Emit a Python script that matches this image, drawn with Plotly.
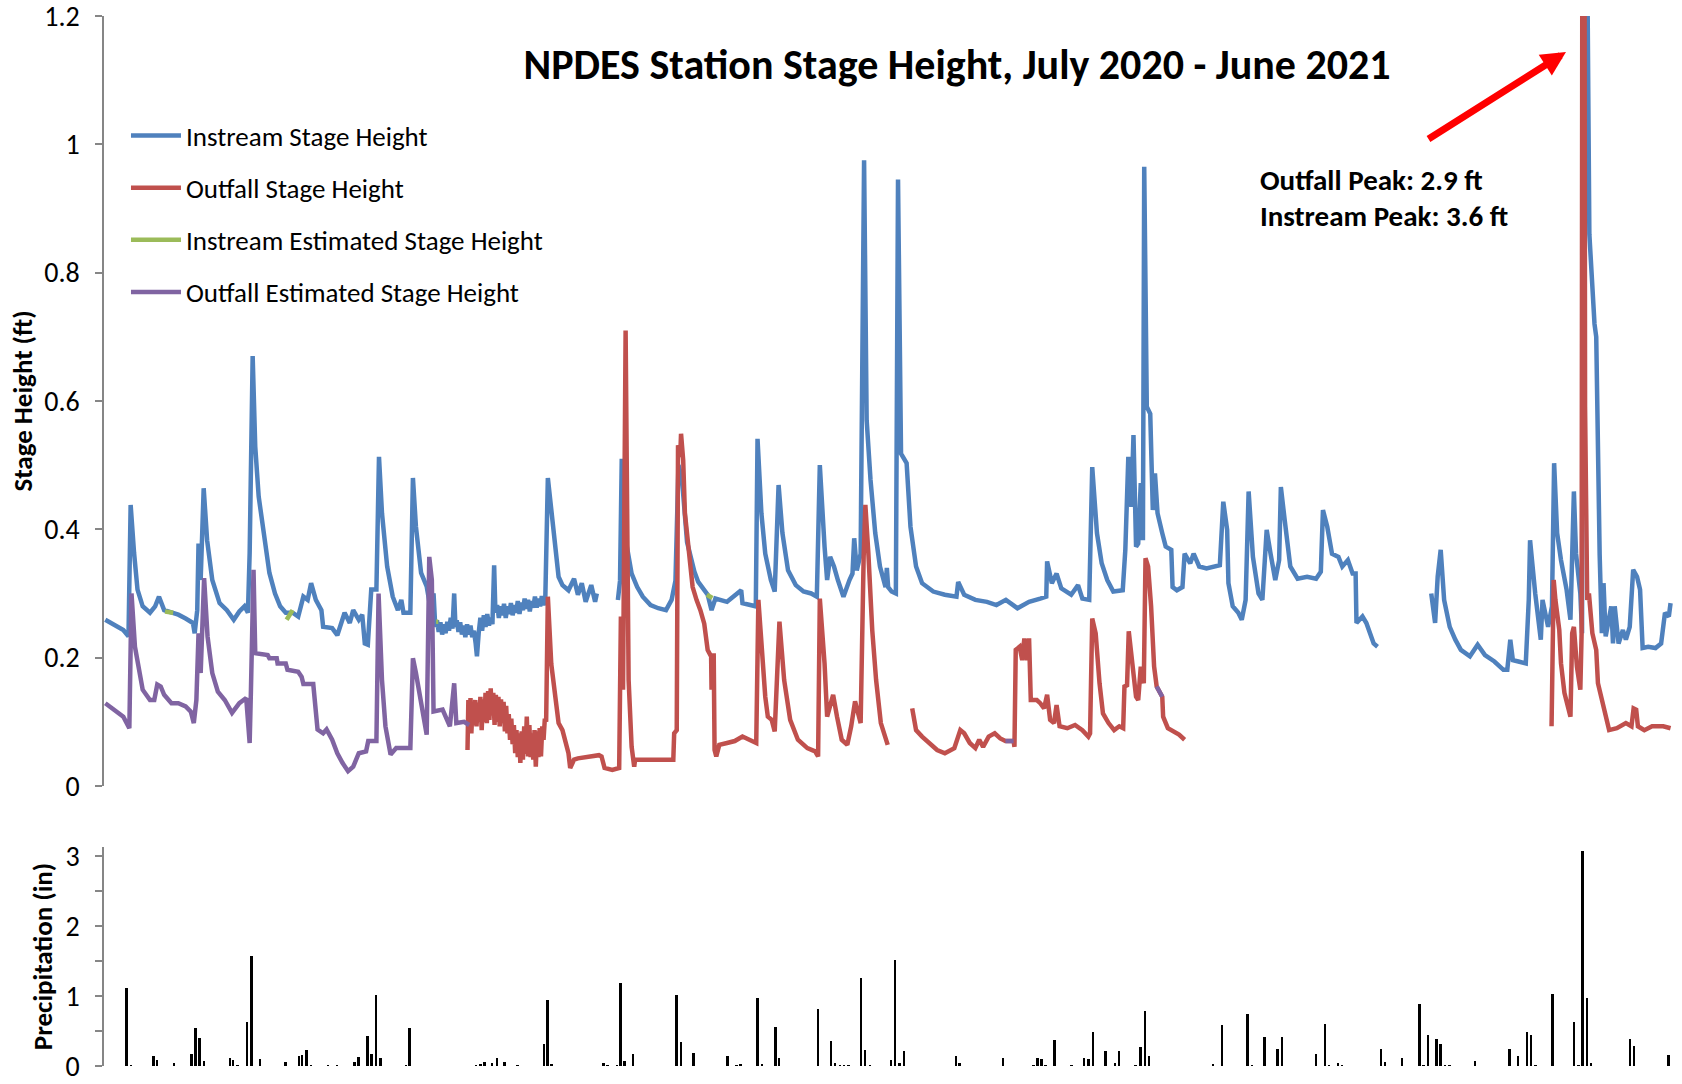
import pandas as pd
import plotly.graph_objects as go

START = pd.Timestamp("2020-07-01")

# ---- Instream stage height (ft); days since 2020-07-01, None = data gap
instream_days = [
    0.3, 2.4, 4.5, 5.7, 6.2, 7.0, 7.8, 9.0, 10.7, 11.9, 12.8, 14.0, 15.7, 17.3, 19.0, 20.7, 21.1, 21.7,
    22.0, 22.5, 23.2, 24.0, 25.2, 26.9, 28.6, 30.2, 31.5, 32.7, 33.5, 33.9, 34.6, 35.2, 36.0, 37.3,
    38.5, 39.8, 41.0, 42.3, 43.9, 45.2, 46.4, 47.4, 48.2, 49.3, 50.6, 51.0, 53.1, 54.3, 56.0, 57.2,
    58.0, 59.3, 60.1, 60.7, 61.4, 62.2, 63.4, 64.0, 64.7, 65.9, 67.2, 68.4, 69.2, 69.7, 71.3, 71.9,
    72.6, 73.8, 75.1, 75.9, 76.7,
    77.1, 77.5, 77.9, 78.3, 78.7, 79.1, 79.5, 79.9, 80.3, 80.7, 81.1, 81.5, 81.8, 82.1, 82.5, 82.9,
    83.3, 83.7, 84.1, 84.5, 84.9, 85.3, 85.7, 86.1, 86.5, 86.8, 87.2, 87.6, 88.0, 88.4, 88.8, 89.2,
    89.6, 90.0, 90.4, 90.8, 91.1, 91.5, 91.9, 92.3, 92.7, 93.1, 93.5, 93.9, 94.3, 94.7, 95.1, 95.5,
    95.9, 96.3, 96.7, 97.1, 97.5, 97.9, 98.3, 98.7, 99.1, 99.5, 99.9, 100.3, 100.7, 101.1, 101.5,
    101.9, 102.3, 102.7,
    103.3, 104.1, 105.0, 105.8, 106.7,
    108.1, 109.4, 110.3, 111.2, 112.1, 113.4, 114.3, 114.7, None,
    119.6, 120.1, 120.5, 121.0, 121.7, 122.8, 124.1, 125.4, 127.2, 129.0, 130.8, 132.1, 133.0, 133.7,
    134.5, 135.7, 137.4, 138.3, 140.5, 141.4, 142.3, 145.0, 148.3, 148.6, 151.7, 152.1, 153.0, 153.9,
    155.2, 156.1, 157.0, 157.9, 159.2, 161.0, 162.8, 164.6, 165.9, 166.6, 167.7, 168.3, 169.0, 169.9,
    170.8, 172.1, 173.5, 174.2, 174.6, 175.2, 176.1, 176.6, 176.9, 177.5, 178.4, 179.5, 180.6, 181.9,
    182.2, 182.5, 183.3, 184.3, 184.8, 185.5, 186.8, 187.7, 189.0, 190.4, 193.0, 195.7, 198.4, 198.8,
    200.2, 202.8, 205.5, 207.7, 209.9, 212.6, 215.3, 217.9, 219.3, 219.5, 220.6, 221.7, 222.8, 225.1,
    226.7, 227.7, 229.3, 230.0, 231.1, 232.2, 233.5, 234.9, 237.1, 237.7, 238.4, 239.1, 239.6, 240.2,
    240.7, 241.3, 241.8, 242.1, 242.7, 243.5, 244.1, 244.6, 245.2, 246.3, 247.1, 248.4, 248.7, 249.7,
    251.0, 251.5, 252.8, 253.6, 254.9, 256.6, 258.4, 259.7, 260.5, 261.4, 261.7, 262.7, 264.0, 264.8,
    265.7, 266.4, 267.4, 268.7, 269.6, 270.6, 271.5, 272.6, 273.5, 273.9, 274.8, 276.1, 277.8, 280.0,
    282.1, 283.2, 283.7, 284.7, 285.8, 287.3, 288.2, 289.5, 290.6, 291.3, 291.5, 292.9, 293.8, 294.6,
    295.5, 296.4, None,
    308.9, 309.8, 310.4, 311.1, 311.9, 313.2, 314.5, 315.8, 317.9, 319.7, 321.4, 323.6, 325.7, 326.6,
    327.3, 327.9, 329.2, 330.9, 331.6, 331.9, 333.1, 334.4, 334.8, 336.1, 337.0, 337.5, 338.2, 339.1,
    340.4, 341.3, 342.1, 342.6, 343.6, 344.0, 344.7, 345.2, 345.7, 346.3, 346.9, 347.3, 347.7, 348.1,
    348.6, 349.0, 349.5, 350.8, 351.2, 351.6, 352.5, 353.5, 354.2, 355.1, 355.9, 356.8, 357.5, 358.1,
    359.4, 361.1, 362.4, 363.3, 364.2, 364.6,
]
instream_ft = [
    0.259, 0.251, 0.243, 0.233, 0.438, 0.363, 0.306, 0.28, 0.27, 0.28, 0.295, 0.274, 0.27, 0.267, 0.261,
    0.254, 0.238, 0.274, 0.378, 0.321, 0.464, 0.383, 0.321, 0.285, 0.274, 0.259, 0.272, 0.28, 0.27,
    0.363, 0.67, 0.529, 0.451, 0.383, 0.332, 0.30, 0.28, 0.27, 0.27, 0.264, 0.295, 0.29, 0.316, 0.29,
    0.274, 0.248, 0.246, 0.235, 0.27, 0.254, 0.274, 0.259, 0.267, 0.222, 0.22, 0.306, 0.306, 0.513,
    0.425, 0.342, 0.295, 0.274, 0.29, 0.27, 0.27, 0.48, 0.404, 0.332, 0.311, 0.28, 0.30,
    0.248, 0.258, 0.240, 0.255, 0.236, 0.252, 0.238, 0.256, 0.242, 0.262, 0.245, 0.30, 0.248, 0.258,
    0.240, 0.255, 0.236, 0.250, 0.232, 0.252, 0.236, 0.250, 0.232, 0.242, 0.222, 0.202, 0.238, 0.262,
    0.242, 0.266, 0.248, 0.268, 0.250, 0.262, 0.252, 0.344, 0.270, 0.282, 0.262, 0.280, 0.266, 0.284,
    0.262, 0.280, 0.268, 0.285, 0.266, 0.282, 0.270, 0.288, 0.268, 0.286, 0.274, 0.292, 0.276, 0.290,
    0.272, 0.288, 0.278, 0.295, 0.278, 0.292, 0.280, 0.296, 0.282, 0.290,
    0.48, 0.435, 0.378, 0.326, 0.313, 0.305, 0.323, 0.298, 0.316,
    0.287, 0.313, 0.287, 0.30, None,
    0.29, 0.32, 0.51, 0.425, 0.373, 0.331, 0.31, 0.295, 0.282, 0.277, 0.274, 0.29, 0.32, 0.50, 0.48,
    0.38, 0.334, 0.318, 0.298, 0.274, 0.292, 0.287, 0.305, 0.285, 0.28, 0.541, 0.425, 0.362, 0.321,
    0.303, 0.469, 0.394, 0.336, 0.313, 0.303, 0.30, 0.295, 0.50, 0.373, 0.321, 0.357, 0.342, 0.321,
    0.295, 0.321, 0.331, 0.386, 0.336, 0.362, 0.75, 0.975, 0.57, 0.477, 0.394, 0.342, 0.31, 0.34,
    0.31, 0.303, 0.30, 0.945, 0.518, 0.503, 0.404, 0.342, 0.316, 0.303, 0.298, 0.295, 0.318, 0.298,
    0.29, 0.287, 0.282, 0.29, 0.277, 0.287, 0.292, 0.295, 0.35, 0.316, 0.331, 0.308, 0.298, 0.313,
    0.292, 0.29, 0.497, 0.394, 0.347, 0.321, 0.303, 0.305, 0.368, 0.513, 0.435, 0.547, 0.373, 0.378,
    0.472, 0.383, 0.965, 0.591, 0.58, 0.43, 0.487, 0.425, 0.394, 0.373, 0.368, 0.31, 0.305, 0.31,
    0.362, 0.347, 0.362, 0.342, 0.339, 0.342, 0.344, 0.443, 0.399, 0.316, 0.28, 0.27, 0.259, 0.29,
    0.459, 0.357, 0.30, 0.29, 0.399, 0.362, 0.321, 0.352, 0.466, 0.414, 0.342, 0.323, 0.326, 0.323,
    0.334, 0.43, 0.404, 0.362, 0.357, 0.342, 0.352, 0.331, 0.331, 0.254, 0.264, 0.254, 0.238, 0.222,
    0.217, None,
    0.30, 0.254, 0.326, 0.368, 0.29, 0.248, 0.228, 0.212, 0.202, 0.22, 0.204, 0.194, 0.181, 0.181,
    0.228, 0.196, 0.194, 0.191, 0.29, 0.383, 0.30, 0.228, 0.29, 0.248, 0.28, 0.503, 0.394, 0.352,
    0.306, 0.259, 0.459, 0.362, 0.30, 0.238, 3.6, 1.3, 0.86, 0.78, 0.72, 0.70, 0.50, 0.36, 0.238,
    0.316, 0.233, 0.28, 0.222, 0.28, 0.222, 0.243, 0.228, 0.248, 0.337, 0.326, 0.306, 0.215, 0.217,
    0.215, 0.222, 0.27, 0.264, 0.285,
]

# ---- Outfall stage height (ft)
outfall_days = [
    84.6, 84.8, 85.0, 85.3, 85.5, 85.8, 86.1, 86.4, 86.7, 87.0, 87.3, 87.6, 87.9, 88.2, 88.5, 88.8,
    89.1, 89.4, 89.7, 90.0, 90.3, 90.6, 90.9, 91.2, 91.5, 91.8, 92.1, 92.4, 92.7, 93.0, 93.3, 93.6,
    93.9, 94.2, 94.5, 94.8, 95.1, 95.4, 95.7, 96.0, 96.3, 96.6, 96.9, 97.2, 97.5, 97.8, 98.1, 98.4,
    98.7, 99.0, 99.3, 99.6, 99.9, 100.2, 100.5, 100.8, 101.1, 101.4, 101.7, 102.0, 102.3, 102.6,
    102.9, 103.3, 104.1, 105.0, 105.8, 106.7, 107.2, 108.1, 108.5, 109.4, 110.3, 113.0,
    115.2, 115.8, 116.5, 118.3, 119.9, 120.3, 120.8, 121.4, 121.7, 122.1, 122.8, 123.4, 123.6, 132.5,
    132.7, 133.3, 133.6, 134.1, 134.3, 134.8, 135.2, 135.9, 137.0, 137.9, 138.8, 139.7, 140.5, 141.3,
    141.4, 141.9, 142.1, 142.5, 143.2, 145.0, 146.8, 148.6, 150.3, 151.8, 152.3, 153.0, 153.9, 154.5,
    155.4, 156.1, 157.2, 158.3, 159.7, 161.5, 163.7, 165.5, 166.2, 166.6, 167.7, 168.3, 169.0, 169.7,
    170.6, 171.7, 173.0, 173.9, 174.8, 175.4, 176.1, 176.8, 177.2, 177.9, 178.8, 179.7, 180.8, 182.4,
    None,
    188.1, 189.0, 190.4, 192.1, 193.9, 195.7, 197.9, 199.3, 200.2, 201.5, 202.8, 203.7, 204.6, 205.9,
    207.3, 208.6, 209.8, 211.7, 211.9, 212.2, 213.1, 213.7, 214.2, 214.8, 215.3, 215.7, 217.1, 217.9,
    218.8, 219.5, 220.2, 221.1, 221.7, 222.4, 224.2, 226.0, 227.7, 229.1, 229.5, 230.0, 230.8, 231.7,
    232.5, 233.8, 235.1, 236.3, 237.2, 237.5, 238.1, 238.5, 239.4, 240.2, 240.7, 241.3, 242.0, 242.4,
    243.0, 243.7, 244.4, 245.0, 246.3, 246.5, 247.6, 248.9, 250.2, 251.5, None,
    336.9, 337.4, 337.8, 338.7, 339.1, 339.9, 341.3, 341.7, 342.1, 342.8, 343.6, 343.9, 344.3, 344.7,
    345.2, 345.6, 346.4, 347.3, 347.7, 348.6, 349.5, 350.3, 352.1, 354.2, 355.5, 356.0, 356.6, 357.0,
    358.5, 360.3, 362.9, 364.6,
]
outfall_ft = [
    0.056, 0.134, 0.090, 0.137, 0.082, 0.128, 0.095, 0.134, 0.093, 0.130, 0.100, 0.139, 0.087, 0.135,
    0.100, 0.145, 0.098, 0.148, 0.103, 0.152, 0.110, 0.145, 0.095, 0.142, 0.100, 0.139, 0.093, 0.135,
    0.098, 0.131, 0.085, 0.125, 0.082, 0.112, 0.072, 0.105, 0.065, 0.095, 0.051, 0.087, 0.045, 0.082,
    0.036, 0.085, 0.041, 0.093, 0.050, 0.108, 0.046, 0.095, 0.045, 0.082, 0.041, 0.087, 0.030, 0.085,
    0.045, 0.090, 0.046, 0.093, 0.072, 0.105,
    0.100, 0.295, 0.19, 0.144, 0.098, 0.087, 0.072, 0.051, 0.028, 0.041,
    0.043, 0.046, 0.048, 0.046, 0.028, 0.025, 0.028, 0.264, 0.15, 0.71, 0.425, 0.165, 0.061, 0.03,
    0.041, 0.041, 0.082, 0.087, 0.531, 0.513, 0.549, 0.508, 0.425, 0.383, 0.31, 0.29, 0.274, 0.253,
    0.212, 0.202, 0.15, 0.207, 0.056, 0.046, 0.064, 0.067, 0.07, 0.077, 0.072, 0.067, 0.29, 0.217,
    0.139, 0.108, 0.103, 0.085, 0.256, 0.165, 0.103, 0.072, 0.059, 0.054, 0.046, 0.292, 0.191, 0.108,
    0.124, 0.142, 0.108, 0.072, 0.064, 0.093, 0.132, 0.113, 0.098, 0.357, 0.438, 0.362, 0.243, 0.165,
    0.098, 0.064, None,
    0.121, 0.087, 0.077, 0.067, 0.056, 0.051, 0.059, 0.087, 0.082, 0.067, 0.059, 0.072, 0.061, 0.077,
    0.082, 0.074, 0.07, 0.07, 0.061, 0.212, 0.217, 0.196, 0.23, 0.196, 0.23, 0.134, 0.134, 0.129,
    0.121, 0.142, 0.103, 0.098, 0.126, 0.093, 0.09, 0.095, 0.087, 0.077, 0.082, 0.261, 0.238, 0.16,
    0.113, 0.098, 0.087, 0.093, 0.09, 0.155, 0.157, 0.241, 0.186, 0.139, 0.134, 0.186, 0.16, 0.355,
    0.342, 0.28, 0.186, 0.155, 0.139, 0.108, 0.09, 0.085, 0.08, 0.072, None,
    0.093, 0.321, 0.29, 0.243, 0.191, 0.145, 0.108, 0.238, 0.248, 0.186, 0.15, 0.238, 2.9, 0.591,
    0.29, 0.30, 0.238, 0.212, 0.16, 0.134, 0.103, 0.087, 0.09, 0.098, 0.093, 0.121, 0.119, 0.093,
    0.087, 0.093, 0.093, 0.09,
]

# ---- Estimated records
instream_est_days = [14.2, 16.1, None, 42.5, 43.9, None, 77.3, 77.8, None, 140.3, 141.6]
instream_est_ft = [0.272, 0.27, None, 0.259, 0.274, None, 0.256, 0.256, None, 0.298, 0.293]

outfall_est_days = [
    0.3, 2.4, 4.5, 5.9, 6.4, 7.2, 8.2, 9.0, 10.7, 11.7, 12.4, 13.2, 14.0, 15.7, 17.3, 19.0, 20.2, 20.9,
    21.5, 22.0, 22.5, 23.3, 24.1, 25.2, 26.5, 28.1, 29.8, 31.5, 33.1, 33.9, 34.2, 34.8, 35.2, 38.1,
    38.5, 40.2, 40.4, 42.3, 42.7, 45.2, 46.0, 46.4, 48.7, 49.3, 49.7, 51.0, 51.8, 53.1, 54.3, 55.5,
    56.8, 58.0, 59.3, 61.0, 61.5, 63.4, 63.9, 64.7, 65.5, 66.7, 68.0, 71.3, 71.9, 72.6, 73.8, 75.1,
    75.7, 76.3, 76.7, 78.8, 80.5, 81.5, 82.0, 83.8, 85.0, None,
    209.8, 211.7, None, 245.0, 246.3,
]
outfall_est_ft = [
    0.129, 0.119, 0.108, 0.09, 0.30, 0.217, 0.176, 0.15, 0.134, 0.134, 0.158, 0.155, 0.142, 0.129,
    0.129, 0.124, 0.116, 0.098, 0.134, 0.238, 0.176, 0.324, 0.233, 0.176, 0.147, 0.134, 0.114, 0.129,
    0.137, 0.067, 0.15, 0.337, 0.207, 0.204, 0.199, 0.199, 0.191, 0.191, 0.181, 0.178, 0.17, 0.159,
    0.159, 0.119, 0.088, 0.082, 0.088, 0.072, 0.051, 0.036, 0.023, 0.03, 0.051, 0.054, 0.07, 0.07,
    0.30, 0.165, 0.093, 0.049, 0.059, 0.059, 0.199, 0.176, 0.134, 0.08, 0.357, 0.321, 0.116, 0.119,
    0.093, 0.16, 0.098, 0.10, 0.095, None,
    0.07, 0.07, None, 0.155, 0.139,
]

# ---- Daily precipitation (in)
precip_days = [
    5.3, 6.3, 11.6, 12.4, 16.4, 20.4, 21.4, 22.3, 23.3, 29.4, 30.1, 31.1, 33.4, 34.4, 36.4, 42.3, 45.4,
    46.2, 47.2, 48.2, 52.2, 54.3, 58.4, 59.3, 61.4, 62.3, 63.4, 64.4, 70.4, 71.2, 86.6, 87.7, 88.6,
    90.4, 91.5, 93.3, 96.3, 102.4, 103.3, 104.2, 116.3, 117.2, 119.5, 120.3, 121.2, 123.2, 133.3,
    134.3, 137.3, 145.2, 147.3, 148.2, 152.2, 153.2, 156.3, 157.2, 166.2, 169.2, 170.2, 171.3, 172.3,
    173.3, 176.2, 177.2, 178.3, 183.2, 184.2, 185.2, 186.2, 198.3, 199.2, 209.3, 216.4, 217.3, 218.2,
    219.2, 221.3, 225.2, 228.2, 229.2, 230.3, 233.1, 235.3, 236.3, 240.1, 241.3, 242.3, 243.3, 258.2,
    260.2, 266.2, 267.2, 270.2, 273.2, 274.2, 282.1, 284.2, 285.1, 287.2, 288.2, 297.2, 298.2, 302.2,
    306.2, 307.2, 308.2, 310.2, 311.1, 312.2, 313.2, 319.2, 327.2, 329.2, 331.2, 332.2, 333.2, 337.2,
    342.2, 343.2, 344.2, 345.2, 346.2, 355.2, 356.2, 364.2,
]
precip_in = [
    1.12, 0.01, 0.14, 0.086, 0.04, 0.17, 0.54, 0.40, 0.076, 0.12, 0.086, 0.02, 0.63, 1.57, 0.10, 0.06,
    0.14, 0.16, 0.23, 0.01, 0.01, 0.01, 0.057, 0.13, 0.43, 0.17, 1.01, 0.12, 0.01, 0.54, 0.01, 0.03,
    0.06, 0.05, 0.11, 0.06, 0.01, 0.31, 0.94, 0.03, 0.04, 0.02, 0.01, 1.18, 0.067, 0.17, 1.01, 0.35,
    0.18, 0.14, 0.01, 0.03, 0.97, 0.03, 0.56, 0.11, 0.82, 0.36, 0.04, 0.02, 0.01, 0.01, 1.26, 0.23,
    0.01, 0.086, 1.52, 0.04, 0.21, 0.14, 0.04, 0.12, 0.01, 0.11, 0.10, 0.01, 0.37, 0.01, 0.12, 0.10,
    0.49, 0.21, 0.04, 0.22, 0.02, 0.27, 0.79, 0.15, 0.03, 0.58, 0.75, 0.01, 0.42, 0.24, 0.42, 0.17,
    0.60, 0.02, 0.05, 0.01, 0.25, 0.06, 0.11, 0.89, 0.01, 0.44, 0.39, 0.31, 0.01, 0.01, 0.067, 0.24,
    0.14, 0.48, 0.44, 0.01, 1.03, 0.63, 0.01, 3.07, 0.97, 0.04, 0.39, 0.29, 0.16,
]

TITLE = "NPDES Station Stage Height, July 2020 - June 2021"
STAGE_TICKS = [0, 0.2, 0.4, 0.6, 0.8, 1.0, 1.2]
PRECIP_TICKS = [0, 1, 2, 3]


def to_dates(days):
    return [None if d is None else START + pd.Timedelta(days=d) for d in days]


FONT = "Carlito, Calibri, Lato, sans-serif"
AXIS_GRAY = "#868686"

fig = go.Figure()

series = [
    ("Instream Stage Height", instream_days, instream_ft, "#4F81BD"),
    ("Outfall Stage Height", outfall_days, outfall_ft, "#C0504D"),
    ("Instream Estimated Stage Height", instream_est_days, instream_est_ft, "#9BBB59"),
    ("Outfall Estimated Stage Height", outfall_est_days, outfall_est_ft, "#8064A2"),
]
for name, days, vals, color in series:
    fig.add_trace(go.Scatter(
        x=to_dates(days), y=vals, name=name, mode="lines",
        line=dict(color=color, width=4.5), connectgaps=False,
        legendgroup=name, xaxis="x", yaxis="y",
    ))

fig.add_trace(go.Bar(
    x=to_dates(precip_days), y=precip_in, name="Precipitation",
    marker=dict(color="#000000", line=dict(width=0)),
    width=0.45 * 86400000, showlegend=False, xaxis="x2", yaxis="y2",
))

x_range = [START, START + pd.Timedelta(days=365.4)]

fig.update_layout(
    width=1682, height=1084,
    margin=dict(l=104, r=8, t=16, b=18, autoexpand=False),
    paper_bgcolor="white", plot_bgcolor="white",
    font=dict(family=FONT, size=27, color="#000000"),
    showlegend=True,
    title=dict(
        text="<b>" + TITLE + "</b>", x=0.569, y=0.941, xref="container", yref="container",
        xanchor="center", yanchor="middle", font=dict(family=FONT, size=42, color="#000000"),
    ),
    legend=dict(
        x=0.014, y=0.909, xanchor="left", yanchor="top",
        font=dict(family=FONT, size=27, color="#000000"),
        bgcolor="rgba(0,0,0,0)", borderwidth=0,
        tracegroupgap=14, itemwidth=50, traceorder="grouped",
    ),
    xaxis=dict(domain=[0, 1], range=x_range, type="date", visible=False),
    xaxis2=dict(domain=[0, 1], range=x_range, type="date", visible=False, matches="x"),
    yaxis=dict(
        domain=[0.2667, 1], range=[0, 1.2], tickvals=STAGE_TICKS,
        ticktext=["0", "0.2", "0.4", "0.6", "0.8", "1", "1.2"],
        showline=True, linecolor=AXIS_GRAY, linewidth=1.5,
        ticks="outside", ticklen=7, tickcolor=AXIS_GRAY, tickwidth=1.5,
        ticklabelstandoff=10, ticklabeloverflow="allow", automargin=False,
        showgrid=False, zeroline=False, tickfont=dict(size=28),
        title=dict(text="<b>Stage Height (ft)</b>", font=dict(size=27), standoff=4),
    ),
    yaxis2=dict(
        domain=[0, 0.2086], range=[0, 3.13], tickvals=PRECIP_TICKS,
        showline=True, linecolor=AXIS_GRAY, linewidth=1.5,
        ticks="outside", ticklen=7, tickcolor=AXIS_GRAY, tickwidth=1.5,
        minor=dict(dtick=0.5, ticks="outside", ticklen=7, tickcolor=AXIS_GRAY, tickwidth=1.5),
        ticklabelstandoff=10, ticklabeloverflow="allow", automargin=False,
        showgrid=False, zeroline=False, tickfont=dict(size=28),
        title=dict(text="<b>Precipitation (in)</b>", font=dict(size=27), standoff=5),
    ),
    bargap=0,
)

# Peak call-out with arrow pointing to the off-scale event
fig.add_annotation(
    x=0.9312, y=0.9657, xref="paper", yref="paper", text="",
    showarrow=True, ax=-139, ay=88, arrowcolor="#FF0000",
    arrowwidth=7, arrowhead=2, arrowsize=0.7, standoff=0, startstandoff=0,
)
fig.add_annotation(
    x=0.735, y=0.8438, xref="paper", yref="paper", xanchor="left", yanchor="middle",
    text="<b>Outfall Peak: 2.9 ft</b>", showarrow=False, font=dict(size=29, family=FONT),
)
fig.add_annotation(
    x=0.735, y=0.8095, xref="paper", yref="paper", xanchor="left", yanchor="middle",
    text="<b>Instream Peak: 3.6 ft</b>", showarrow=False, font=dict(size=29, family=FONT),
)

fig.write_html("out.html")
